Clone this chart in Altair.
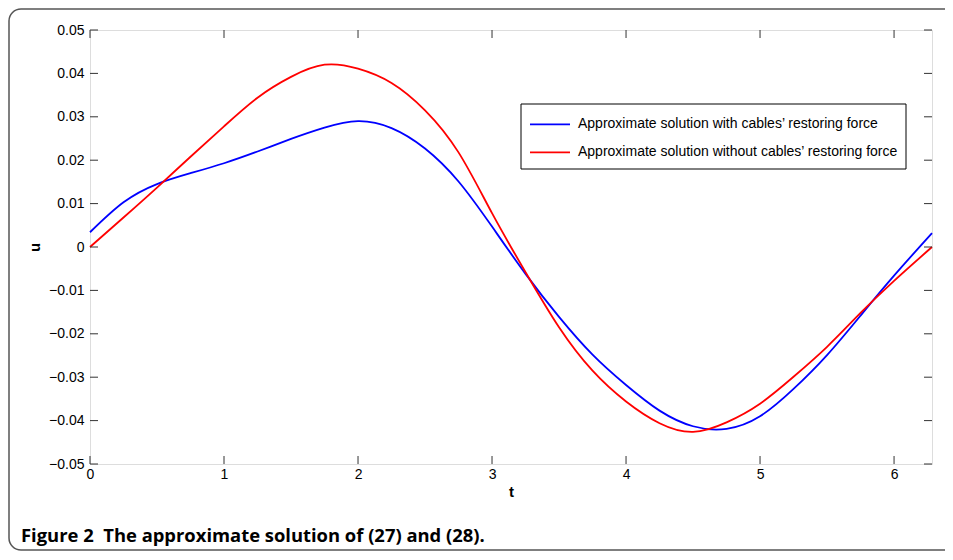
import altair as alt
import pandas as pd

# ---- data ----
series_names = [
    "Approximate solution with cables\u2019 restoring force",
    "Approximate solution without cables\u2019 restoring force",
]
series_colors = ["#0000ff", "#ff0000"]

t_vals = [0.0, 0.25, 0.5, 0.75, 1.0, 1.25, 1.5, 1.75, 2.0, 2.25, 2.5, 2.75, 3.0, 3.25,
          3.5, 3.75, 4.0, 4.25, 4.5, 4.75, 5.0, 5.25, 5.5, 5.75, 6.0, 6.2832]

u_blue = [0.0034, 0.0103, 0.0145, 0.0170, 0.0193, 0.0220, 0.0249, 0.0275, 0.0290, 0.0274,
          0.0227, 0.0151, 0.0047, -0.0062, -0.0161, -0.0248, -0.0318, -0.0377, -0.0413,
          -0.0419, -0.0390, -0.0327, -0.0249, -0.0158, -0.0066, 0.0032]

u_red = [0.0, 0.0068, 0.0137, 0.0208, 0.0278, 0.0344, 0.0392, 0.0420, 0.0411, 0.0378,
         0.0315, 0.0218, 0.0078, -0.0058, -0.0185, -0.0285, -0.0356, -0.0406, -0.0426,
         -0.0404, -0.0361, -0.0299, -0.0230, -0.0152, -0.0078, 0.0]

x_ticks = [0, 1, 2, 3, 4, 5, 6]
y_ticks = [-0.05, -0.04, -0.03, -0.02, -0.01, 0.0, 0.01, 0.02, 0.03, 0.04, 0.05]

x_domain = [0, 6.2832]
y_domain = [-0.05, 0.05]

caption = "Figure 2\u00a0\u00a0The approximate solution of (27) and (28)."

# ---- layout ----
W, H = 842, 434
PAD = {"left": 82, "top": 22, "right": 13, "bottom": 88}
FONT = "Liberation Sans"

df = pd.concat([
    pd.DataFrame({"t": t_vals, "u": u_blue, "series": series_names[0]}),
    pd.DataFrame({"t": t_vals, "u": u_red, "series": series_names[1]}),
], ignore_index=True)

xscale = alt.Scale(domain=x_domain, nice=False, zero=False)
yscale = alt.Scale(domain=y_domain, nice=False, zero=False)
cscale = alt.Scale(domain=series_names, range=series_colors)

lines = alt.Chart(df).mark_line(strokeWidth=1.8, interpolate="natural").encode(
    x=alt.X("t:Q", scale=xscale, title="t",
            axis=alt.Axis(values=x_ticks, tickSize=0, domain=False, grid=False,
                          labelFont=FONT, labelFontSize=14, labelColor="black",
                          labelPadding=3, labelFlush=False, format="d",
                          titleFont=FONT, titleFontSize=15, titleFontWeight="bold",
                          titleColor="black", titleY=32, titleBaseline="alphabetic")),
    y=alt.Y("u:Q", scale=yscale, title="u",
            axis=alt.Axis(values=y_ticks, tickSize=0, domain=False, grid=False,
                          labelFont=FONT, labelFontSize=14, labelColor="black",
                          labelPadding=6, labelFlush=False,
                          labelExpr="abs(datum.value) < 1e-9 ? '0' : format(datum.value, '.2f')",
                          titleFont=FONT, titleFontSize=15, titleFontWeight="bold",
                          titleColor="black", titleAngle=270, titleX=-51, titleY=H / 2,
                          titleBaseline="alphabetic", titleAlign="center")),
    color=alt.Color("series:N", scale=cscale, legend=None),
    order=alt.Order("t:Q"),
)

xt = pd.DataFrame({"v": x_ticks})
yt = pd.DataFrame({"v": y_ticks})
TICK = 8
tick_style = dict(color="#333333", strokeWidth=1)
ticks = [
    alt.Chart(xt).mark_rule(**tick_style).encode(
        x=alt.X("v:Q", scale=xscale), y=alt.value(H), y2=alt.value(H - TICK)),
    alt.Chart(xt).mark_rule(**tick_style).encode(
        x=alt.X("v:Q", scale=xscale), y=alt.value(0), y2=alt.value(TICK)),
    alt.Chart(yt).mark_rule(**tick_style).encode(
        y=alt.Y("v:Q", scale=yscale), x=alt.value(0), x2=alt.value(TICK)),
    alt.Chart(yt).mark_rule(**tick_style).encode(
        y=alt.Y("v:Q", scale=yscale), x=alt.value(W - TICK), x2=alt.value(W)),
]

# legend box (manual, mimicking the MATLAB legend)
LX0, LY0, LX1, LY1 = 431, 74, 816, 139
row_y = [94.3, 122.3]
one = pd.DataFrame({"a": [0]})
legend_layers = [
    alt.Chart(one).mark_rect(fill="white", stroke="black", strokeWidth=1).encode(
        x=alt.value(LX0), x2=alt.value(LX1), y=alt.value(LY0), y2=alt.value(LY1)),
]
for name, ry in zip(series_names, row_y):
    d = pd.DataFrame({"series": [name]})
    legend_layers.append(
        alt.Chart(d).mark_rule(strokeWidth=1.8).encode(
            x=alt.value(440), x2=alt.value(480), y=alt.value(ry),
            color=alt.Color("series:N", scale=cscale, legend=None)))
    legend_layers.append(
        alt.Chart(d).mark_text(align="left", baseline="middle", font=FONT,
                               fontSize=14, color="black").encode(
            x=alt.value(488), y=alt.value(ry), text="series:N"))

# outer figure frame (open on the right, rounded on the left) -- kept inside the SVG
FL, FT, FB, R = -81, -21, 520, 12
FR = W + PAD["right"]
FCOL, FW = "#555555", 1.5
frame = [
    alt.Chart(one).mark_rule(color=FCOL, strokeWidth=FW).encode(
        x=alt.value(FL + R), x2=alt.value(FR), y=alt.value(FT)),
    alt.Chart(one).mark_rule(color=FCOL, strokeWidth=FW).encode(
        x=alt.value(FL + R), x2=alt.value(FR), y=alt.value(FB)),
    alt.Chart(one).mark_rule(color=FCOL, strokeWidth=FW).encode(
        x=alt.value(FL), y=alt.value(FT + R), y2=alt.value(FB - R)),
    alt.Chart(one).mark_arc(color=FCOL, radius=R + FW / 2, radius2=R - FW / 2).encode(
        x=alt.value(FL + R), y=alt.value(FT + R),
        theta=alt.value(4.712389), theta2=alt.value(6.283185)),
    alt.Chart(one).mark_arc(color=FCOL, radius=R + FW / 2, radius2=R - FW / 2).encode(
        x=alt.value(FL + R), y=alt.value(FB - R),
        theta=alt.value(3.141593), theta2=alt.value(4.712389)),
]

cap = alt.Chart(pd.DataFrame({"c": [caption]})).mark_text(
    align="left", baseline="alphabetic", font="Open Sans", fontSize=18.4,
    fontWeight="bold", color="black").encode(
    x=alt.value(-69), y=alt.value(512), text="c:N")

chart = alt.layer(*frame, lines, *ticks, *legend_layers, cap).properties(
    width=W, height=H,
    padding=PAD,
    autosize=alt.AutoSizeParams(type="none"),
).configure_view(stroke="black", strokeWidth=1.5).configure(background="white")

chart.save("out.html", embed_options={"renderer": "svg", "actions": False})
